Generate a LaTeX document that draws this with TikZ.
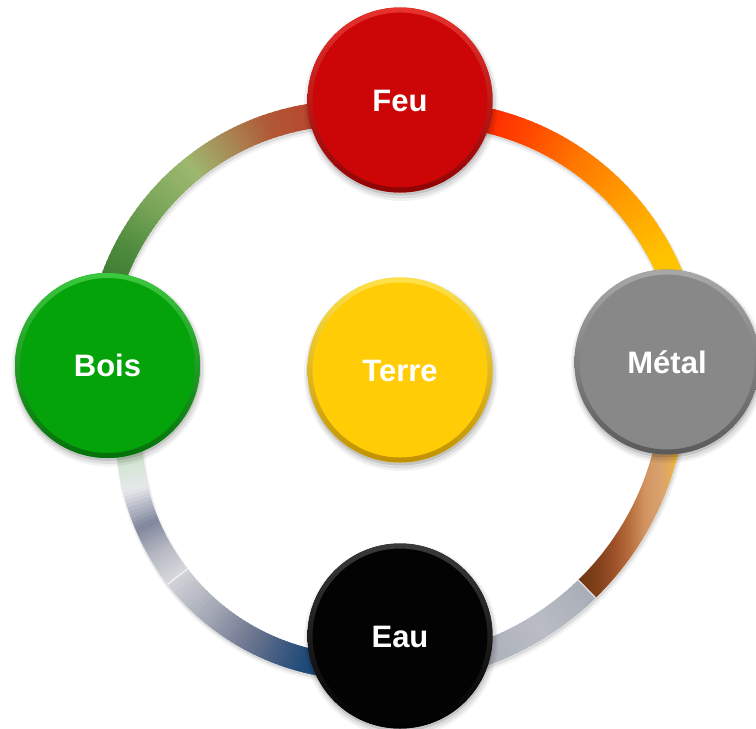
\documentclass[tikz,border=0pt]{standalone}
\usepackage{fontspec}
\setmainfont{Liberation Sans}
\usetikzlibrary{calc}
\pgfdeclarelayer{background}
\pgfsetlayers{background,main}

% node colours
\definecolor{cFeu}{HTML}{CC0606}
\definecolor{cFeuL}{HTML}{E8322E}
\definecolor{cFeuD}{HTML}{8E0303}
\definecolor{cBois}{HTML}{05A30A}
\definecolor{cBoisL}{HTML}{3CC83F}
\definecolor{cBoisD}{HTML}{04700A}
\definecolor{cTerre}{HTML}{FFCC05}
\definecolor{cTerreL}{HTML}{FFE24A}
\definecolor{cTerreD}{HTML}{C09000}
\definecolor{cMetal}{HTML}{888888}
\definecolor{cMetalL}{HTML}{A8A8A8}
\definecolor{cMetalD}{HTML}{5A5A5A}
\definecolor{cEau}{HTML}{030303}
\definecolor{cEauL}{HTML}{3A3A3A}
\definecolor{cEauD}{HTML}{000000}
% band A (Feu - Bois)
\definecolor{aA0}{HTML}{BC3F2A}
\definecolor{aA1}{HTML}{B05A37}
\definecolor{aA2}{HTML}{A88A57}
\definecolor{aA3}{HTML}{9DB86E}
\definecolor{aA4}{HTML}{7AA65A}
\definecolor{aA5}{HTML}{4C8A3C}
\definecolor{aA6}{HTML}{3A7631}
% band B (Feu - Metal)
\definecolor{bB0}{HTML}{FF2000}
\definecolor{bB1}{HTML}{FF2C00}
\definecolor{bB2}{HTML}{FF4A00}
\definecolor{bB3}{HTML}{FF7800}
\definecolor{bB4}{HTML}{FFA000}
\definecolor{bB5}{HTML}{FFC300}
\definecolor{bB6}{HTML}{FFC800}
% band C top (Metal side)
\definecolor{cT0}{HTML}{6E3512}
\definecolor{cT1}{HTML}{85431C}
\definecolor{cT2}{HTML}{A0522A}
\definecolor{cT3}{HTML}{B86F3E}
\definecolor{cT4}{HTML}{D29462}
\definecolor{cT5}{HTML}{D9A26E}
\definecolor{cT6}{HTML}{E8AE55}
\definecolor{cT7}{HTML}{FFC000}
% band C bottom (Eau side)
\definecolor{cB0}{HTML}{A8ADB7}
\definecolor{cB1}{HTML}{BABDC5}
\definecolor{cB2}{HTML}{AEB2BC}
\definecolor{cB3}{HTML}{9CA1AD}
% band D top (Bois side)
\definecolor{dT0}{HTML}{C8E2C6}
\definecolor{dT1}{HTML}{D0E6CF}
\definecolor{dT2}{HTML}{E6E7EB}
\definecolor{dT3}{HTML}{80869C}
\definecolor{dT4}{HTML}{B4B7C2}
\definecolor{dT5}{HTML}{D8D9DE}
% band D bottom (Eau side)
\definecolor{dB0}{HTML}{D2D3D8}
\definecolor{dB1}{HTML}{A4A8B5}
\definecolor{dB2}{HTML}{6F7891}
\definecolor{dB3}{HTML}{3E5A80}
\definecolor{dB4}{HTML}{1F4A78}
\definecolor{dB5}{HTML}{1A4575}

\pgfdeclarehorizontalshading{ctopshade}{100bp}{color(0bp)=(cT0); color(25bp)=(cT0); color(35.2bp)=(cT1); color(42.1bp)=(cT2); color(49.1bp)=(cT3); color(56bp)=(cT4); color(63bp)=(cT5); color(68.5bp)=(cT6); color(72.2bp)=(cT7); color(75bp)=(cT7); color(100bp)=(cT7)}

% gradient piece of a band: centre, radius, angle1, angle2, colour1, colour2
\newcommand\bandseg[6]{%
  \foreach \k in {0,...,9}{%
    \pgfmathsetmacro\sa{#3+(#4-#3)*\k/10}%
    \pgfmathsetmacro\ea{#3+(#4-#3)*(\k+1.4)/10}%
    \pgfmathsetmacro\pp{100-10*(\k+0.5)}%
    \draw[bandline, color=#5!\pp!#6] ($(#1)+(\sa:#2)$) arc[start angle=\sa, end angle=\ea, radius=#2];
  }%
}
% soft shadow of a band
\newcommand\bandshadow[4]{%
  \draw[line width=29pt, black, opacity=0.05] ($(#1)+(1.5,3.5)+(#3:#2)$) arc[start angle=#3, end angle=#4, radius=#2];
  \draw[line width=26pt, black, opacity=0.09] ($(#1)+(1,2.5)+(#3:#2)$) arc[start angle=#3, end angle=#4, radius=#2];
}
% bevel rim of a node: node, light, base, dark
\newcommand\noderim[4]{%
  \shade[top color=#2, middle color=#3, bottom color=#4, even odd rule]
    (#1.center) circle (92.5) (#1.center) circle (87.5);
}

\tikzset{
  elem/.style={circle, minimum size=185pt, inner sep=0pt, text=white,
    font=\bfseries\fontsize{31}{31}\selectfont, text height=22.2pt, text depth=0pt},
  bandline/.style={line width=25pt},
  splitline/.style={line width=1.2pt, white, opacity=0.75},
}

\begin{document}
\begin{tikzpicture}[x=1pt, y=-1pt]
\useasboundingbox (0,0) rectangle (756,729);

% centres of the connecting arcs
\coordinate (cA) at (350,365);
\coordinate (cB) at (427.9,376.6);
\coordinate (cC) at (386.2,382.4);
\coordinate (cD) at (362.5,433.2);

% elements
\node[elem, fill=cFeu]   (feu)   at (400,100)   {Feu};
\node[elem, fill=cBois]  (bois)  at (107.5,365.5) {Bois};
\node[elem, fill=cTerre] (terre) at (400,370)   {Terre};
\node[elem, fill=cMetal] (metal) at (667,362)   {Métal};
\node[elem, fill=cEau]   (eau)   at (400,636)   {Eau};

\noderim{feu}{cFeuL}{cFeu}{cFeuD}
\noderim{bois}{cBoisL}{cBois}{cBoisD}
\noderim{terre}{cTerreL}{cTerre}{cTerreD}
\noderim{metal}{cMetalL}{cMetal}{cMetalD}
\noderim{eau}{cEauL}{cEau}{cEauD}

\begin{pgfonlayer}{background}
  % shadows of the bands
  \bandshadow{cA}{252}{265}{195}
  \bandshadow{cB}{263}{275}{345}
  \bandshadow{cC}{288}{5}{80}
  \bandshadow{cD}{234}{185}{95}

  % band Feu - Bois
  \bandseg{cA}{252}{265}{251}{aA0}{aA1}
  \bandseg{cA}{252}{251}{241}{aA1}{aA2}
  \bandseg{cA}{252}{241}{231}{aA2}{aA3}
  \bandseg{cA}{252}{231}{219}{aA3}{aA4}
  \bandseg{cA}{252}{219}{207}{aA4}{aA5}
  \bandseg{cA}{252}{207}{195}{aA5}{aA6}

  % band Feu - Metal
  \bandseg{cB}{263}{275}{284}{bB0}{bB1}
  \bandseg{cB}{263}{284}{293}{bB1}{bB2}
  \bandseg{cB}{263}{293}{305}{bB2}{bB3}
  \bandseg{cB}{263}{305}{319}{bB3}{bB4}
  \bandseg{cB}{263}{319}{333}{bB4}{bB5}
  \bandseg{cB}{263}{333}{345}{bB5}{bB6}

  % band Metal - Eau
  \shade[shading=ctopshade] ($(cC)+(5:300.5)$) arc[start angle=5, end angle=45.8, radius=300.5]
     -- ($(cC)+(45.8:275.5)$) arc[start angle=45.8, end angle=5, radius=275.5] -- cycle;
  \bandseg{cC}{288}{45.8}{58}{cB0}{cB1}
  \bandseg{cC}{288}{58}{68}{cB1}{cB2}
  \bandseg{cC}{288}{68}{80}{cB2}{cB3}
  \draw[splitline] ($(cC)+(45.8:275.5)$) -- ($(cC)+(45.8:300.5)$);

  % band Eau - Bois
  \bandseg{cD}{234}{185}{174}{dT0}{dT1}
  \bandseg{cD}{234}{174}{166}{dT1}{dT2}
  \bandseg{cD}{234}{166}{157}{dT2}{dT3}
  \bandseg{cD}{234}{157}{150}{dT3}{dT4}
  \bandseg{cD}{234}{150}{142.2}{dT4}{dT5}
  \bandseg{cD}{234}{142.2}{130}{dB0}{dB1}
  \bandseg{cD}{234}{130}{119}{dB1}{dB2}
  \bandseg{cD}{234}{119}{110}{dB2}{dB3}
  \bandseg{cD}{234}{110}{104}{dB3}{dB4}
  \bandseg{cD}{234}{104}{95}{dB4}{dB5}
  \draw[splitline] ($(cD)+(142.2:221.5)$) -- ($(cD)+(142.2:246.5)$);

  % shadows of the elements
  \foreach \n in {feu,bois,terre,metal,eau}{
    \fill[black, opacity=0.05] ($(\n.center)+(1,4)$) circle (97);
    \fill[black, opacity=0.08] ($(\n.center)+(1,3.5)$) circle (95);
    \fill[black, opacity=0.12] ($(\n.center)+(0.5,2.5)$) circle (93);
  }
\end{pgfonlayer}
\end{tikzpicture}
\end{document}
